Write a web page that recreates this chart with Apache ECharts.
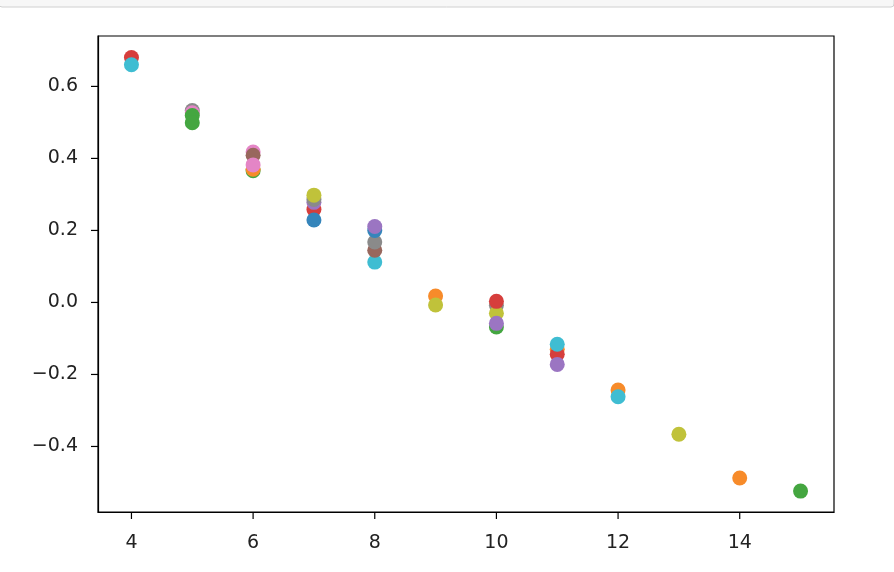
<!DOCTYPE html>
<html>
<head>
<meta charset="utf-8">
<script src="https://cdn.jsdelivr.net/npm/echarts@6/dist/echarts.min.js"></script>
<style>html,body{margin:0;padding:0;background:#fff;}#c{width:894px;height:572px;}</style>
</head>
<body>
<div id="c"></div>
<script>
// point data in drawing order (colour cycles through tab10 palette index)
var xs = [4,4, 5,5,5,5, 6,6,6,6,6, 7,7,7,7,7, 8,8,8,8,8, 9,9, 10,10,10,10,10, 11,11,11,11, 12,12, 13, 14, 15];
var ys = [0.680,0.660, 0.533,0.527,0.519,0.499, 0.418,0.409,0.366,0.370,0.382, 0.258,0.229,0.278,0.286,0.298,
          0.112,0.145,0.168,0.200,0.211, 0.018,-0.007, -0.008,-0.030,-0.068,-0.058,0.003,
          -0.130,-0.144,-0.172,-0.116, -0.243,-0.262, -0.366, -0.4875, -0.524];
var cs = [3,9, 7,6,2,2, 6,5,2,1,6, 3,0,4,7,8, 9,5,7,0,4, 1,8, 7,8,2,4,3, 1,3,4,9, 1,9, 8, 1, 2];
var palette = ['#3585bb','#f78b2a','#44a640','#d63e3c','#9b75c2','#98675d','#e485c6','#8a8a8a','#c0c23a','#3fbdd2'];
var xTicks = [4,6,8,10,12,14];
var yTicks = [-0.4,-0.2,0.0,0.2,0.4,0.6];
var X_MIN = 3.45, X_MAX = 15.55, Y_MIN = -0.582, Y_MAX = 0.740;

var data = xs.map(function(x,i){
  return {value:[x, ys[i]], itemStyle:{color:palette[cs[i]]}};
});
var TICK_LEN = 7;
var tickStyle = {stroke:'#000', lineWidth:1.2};

var chart = echarts.init(document.getElementById('c'), null, {renderer:'canvas'});
var lbl = {color:'#222', fontFamily:'DejaVu Sans', fontSize:19};
chart.setOption({
  animation:false,
  graphic:[{type:'rect', shape:{x:-1,y:-6,width:895,height:13,r:3}, style:{fill:'#f7f7f7',stroke:'#d0d0d0',lineWidth:1}, z:100}],
  grid:{left:98,right:60,top:36,bottom:60,show:true,borderColor:'#000',borderWidth:1.2},
  xAxis:{type:'value',min:X_MIN,max:X_MAX,position:'bottom',
    axisLine:{show:true,onZero:false,lineStyle:{color:'#000',width:1.2}},splitLine:{show:false},
    axisTick:{show:false},
    axisLabel:Object.assign({margin:22,customValues:xTicks,formatter:function(v){return String(v);}},lbl)
  },
  yAxis:{type:'value',min:Y_MIN,max:Y_MAX,position:'left',
    axisLine:{show:true,onZero:false,lineStyle:{color:'#000',width:1.2}},splitLine:{show:false},
    axisTick:{show:false},
    axisLabel:Object.assign({margin:20,customValues:yTicks,formatter:function(v){return (v<-1e-9?'\u2212':'')+Math.abs(v).toFixed(1);}},lbl)
  },
  series:[
    {type:'scatter',symbol:'circle',symbolSize:15,data:data,itemStyle:{opacity:1}},
    {type:'custom',clip:false,silent:true,z:5,
     data:xTicks.map(function(v){return [v, Y_MIN];}),
     renderItem:function(params, api){
       var p = api.coord([api.value(0), api.value(1)]);
       return {type:'line', shape:{x1:p[0],y1:p[1],x2:p[0],y2:p[1]+TICK_LEN}, style:tickStyle};
     }},
    {type:'custom',clip:false,silent:true,z:5,
     data:yTicks.map(function(v){return [X_MIN, v];}),
     renderItem:function(params, api){
       var p = api.coord([api.value(0), api.value(1)]);
       return {type:'line', shape:{x1:p[0],y1:p[1],x2:p[0]-TICK_LEN,y2:p[1]}, style:tickStyle};
     }}
  ]
});
</script>
</body>
</html>
